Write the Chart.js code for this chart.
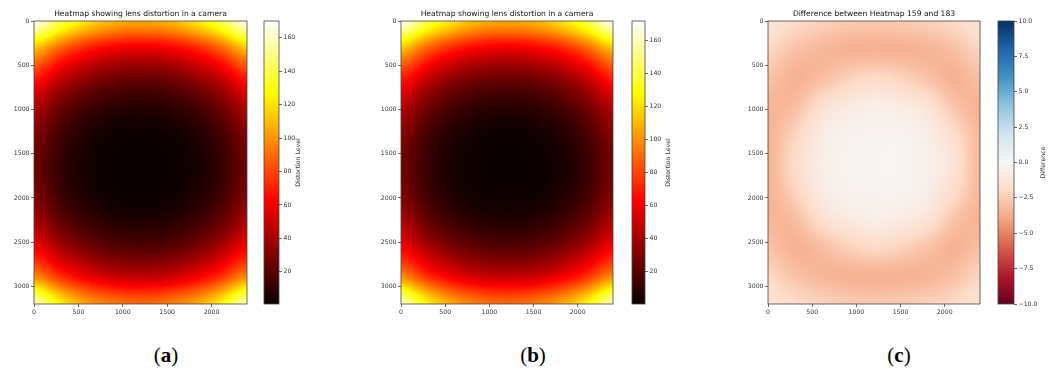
<!DOCTYPE html>
<html>
<head>
<meta charset="utf-8">
<script src="https://cdn.jsdelivr.net/npm/chart.js@4.4.1/dist/chart.umd.min.js"></script>
<style>
  html, body { margin: 0; padding: 0; background: #fff; }
  #fig { position: relative; width: 1057px; height: 373px; overflow: hidden; }
  #fig canvas { position: absolute; top: 0; }
  .cap { position: absolute; top: 343px; width: 60px; margin-left: -30px; text-align: center;
         font: 21px "Liberation Serif", serif; color: #000; }
</style>
</head>
<body>
<div id="fig">
  <canvas id="heat-a" width="260" height="330" style="left:0px"></canvas>
  <canvas id="bar-a" width="80" height="330" style="left:255px"></canvas>
  <canvas id="heat-b" width="260" height="330" style="left:360px"></canvas>
  <canvas id="bar-b" width="75" height="330" style="left:625px"></canvas>
  <canvas id="heat-c" width="270" height="330" style="left:720px"></canvas>
  <canvas id="bar-c" width="67" height="330" style="left:990px"></canvas>
  <div class="cap" style="left:166px">(<b>a</b>)</div>
  <div class="cap" style="left:533px">(<b>b</b>)</div>
  <div class="cap" style="left:899px">(<b>c</b>)</div>
</div>
<script>
/* ── Dados ───────────────────────────────────────────────────── */
const xGrid = [0, 300, 600, 900, 1200, 1500, 1800, 2100, 2400];
const yGrid = [0, 320, 640, 960, 1280, 1600, 1920, 2240, 2560, 2880, 3200];

const distortionA = [
  [168, 139, 120, 108, 105, 108, 120, 139, 168],
  [110,  85,  68,  59,  56,  59,  68,  85, 110],
  [ 70,  48,  35,  27,  25,  27,  35,  48,  70],
  [ 44,  26,  15,  10,   8,  10,  15,  26,  44],
  [ 31,  15,   6, 2.3, 1.3, 2.3,   6,  15,  31],
  [ 26,  11, 3.4,   1, 0.8,   1, 3.4,  11,  26],
  [ 29,  13, 4.9, 1.4,   1, 1.4, 4.9,  13,  29],
  [ 40,  22,  12, 6.9, 5.4, 6.9,  12,  22,  40],
  [ 61,  41,  28,  21,  19,  21,  28,  41,  61],
  [ 97,  73,  57,  48,  46,  48,  57,  73,  97],
  [158, 124, 103,  93,  89,  93, 103, 124, 158],
];

const distortionB = [
  [170, 140, 121, 109, 106, 109, 121, 140, 171],
  [111,  86,  69,  60,  57,  60,  69,  86, 111],
  [ 71,  49,  35,  28,  26,  28,  35,  49,  71],
  [ 45,  27,  16,  10, 8.5,  10,  16,  27,  45],
  [ 32,  16, 6.5, 2.5, 1.4, 2.5, 6.5,  16,  32],
  [ 27,  12, 3.6, 1.1, 0.5, 1.1, 3.6,  12,  27],
  [ 30,  14, 5.2, 1.6, 1.1, 1.6, 5.2,  14,  30],
  [ 41,  23, 12.5, 7.2, 5.7, 7.2, 12.5, 23, 41],
  [ 62,  42,  29,  22,  20,  22,  29,  42,  62],
  [ 98,  74,  58,  49,  47,  49,  58,  74,  98],
  [160, 126, 105,  94,  90,  94, 105, 126, 160],
];

const differenceC = [
  [-1.3, -1.9, -2.3, -2.6, -2.7, -2.6, -2.4, -2.0, -1.4],
  [-2.1, -2.9, -3.3, -3.5, -3.5, -3.5, -3.4, -3.0, -2.2],
  [-2.9, -3.5, -3.1, -2.4, -2.0, -2.3, -2.9, -3.5, -3.0],
  [-3.4, -3.1, -1.7, -1.0, -0.7, -0.9, -1.4, -2.8, -3.5],
  [-3.5, -2.3, -0.9, -0.4, -0.3, -0.3, -0.7, -1.8, -3.3],
  [-3.5, -1.9, -0.7, -0.3, -0.2, -0.2, -0.6, -1.4, -3.3],
  [-3.5, -2.3, -0.9, -0.4, -0.3, -0.3, -0.7, -1.8, -3.3],
  [-3.4, -3.1, -1.7, -1.0, -0.7, -0.9, -1.4, -2.8, -3.5],
  [-2.9, -3.5, -3.1, -2.4, -2.0, -2.3, -2.9, -3.5, -3.0],
  [-2.1, -2.9, -3.3, -3.5, -3.5, -3.5, -3.4, -3.0, -2.2],
  [-1.3, -1.9, -2.3, -2.6, -2.7, -2.6, -2.4, -2.0, -1.4],
];

const xTicks = [0, 500, 1000, 1500, 2000];
const yTicks = [0, 500, 1000, 1500, 2000, 2500, 3000];
const levelTicks = [20, 40, 60, 80, 100, 120, 140, 160];
const diffTicks = [-10, -7.5, -5, -2.5, 0, 2.5, 5, 7.5, 10];
const levelRangeA = [0.8, 170];
const levelRangeB = [0.5, 172];
const diffRange = [-10, 10];

const titleAB = 'Heatmap showing lens distortion in a camera';
const titleC = 'Difference between Heatmap 159 and 183';

const FONT = '"DejaVu Sans", sans-serif';

/* ── Mapas de cor ────────────────────────────────────────────── */
const RDBU_STOPS = [
  [103, 0, 31], [178, 24, 43], [214, 96, 77], [244, 165, 130], [253, 219, 199],
  [247, 247, 247], [209, 229, 240], [146, 197, 222], [67, 147, 195], [33, 102, 172], [5, 48, 97],
];

function clamp01(t) { return Math.max(0, Math.min(1, t)); }

function hotColor(t) {
  t = clamp01(t);
  const r = clamp01(0.0416 + (1 - 0.0416) * t / 0.365079);
  const g = clamp01((t - 0.365079) / 0.380953);
  const b = clamp01((t - 0.746032) / 0.253968);
  return [r * 255, g * 255, b * 255];
}

function rdbuColor(t) {
  t = clamp01(t) * (RDBU_STOPS.length - 1);
  const i = Math.min(Math.floor(t), RDBU_STOPS.length - 2);
  const f = t - i, a = RDBU_STOPS[i], b = RDBU_STOPS[i + 1];
  return [a[0] + (b[0] - a[0]) * f, a[1] + (b[1] - a[1]) * f, a[2] + (b[2] - a[2]) * f];
}

/* ── Amostragem da grade (Catmull-Rom) ───────────────────────── */
function cubic(p0, p1, p2, p3, t) {
  return p1 + 0.5 * t * (p2 - p0 + t * (2 * p0 - 5 * p1 + 4 * p2 - p3 + t * (3 * (p1 - p2) + p3 - p0)));
}

function sampleGrid(values, x, y) {
  const nx = xGrid.length, ny = yGrid.length;
  let fx = (x - xGrid[0]) / (xGrid[1] - xGrid[0]);
  let fy = (y - yGrid[0]) / (yGrid[1] - yGrid[0]);
  fx = Math.max(0, Math.min(nx - 1, fx));
  fy = Math.max(0, Math.min(ny - 1, fy));
  const i = Math.min(Math.floor(fx), nx - 2), j = Math.min(Math.floor(fy), ny - 2);
  const tx = fx - i, ty = fy - j;
  const ci = k => Math.max(0, Math.min(nx - 1, k));
  const cj = k => Math.max(0, Math.min(ny - 1, k));
  const rows = [];
  for (let m = -1; m <= 2; m++) {
    const row = values[cj(j + m)];
    rows.push(cubic(row[ci(i - 1)], row[ci(i)], row[ci(i + 1)], row[ci(i + 2)], tx));
  }
  return cubic(rows[0], rows[1], rows[2], rows[3], ty);
}

/* ── Plugins ─────────────────────────────────────────────────── */
function heatPlugin(values, range, cmap) {
  return {
    id: 'heatField',
    beforeDatasetsDraw(chart) {
      const { ctx, chartArea: a, scales } = chart;
      const x0 = Math.round(a.left), y0 = Math.round(a.top);
      const w = Math.round(a.right) - x0, h = Math.round(a.bottom) - y0;
      const off = document.createElement('canvas');
      off.width = w; off.height = h;
      const octx = off.getContext('2d');
      const img = octx.createImageData(w, h);
      for (let py = 0; py < h; py++) {
        const dy = scales.y.getValueForPixel(y0 + py + 0.5);
        for (let px = 0; px < w; px++) {
          const dx = scales.x.getValueForPixel(x0 + px + 0.5);
          const v = sampleGrid(values, dx, dy);
          const c = cmap((v - range[0]) / (range[1] - range[0]));
          const k = (py * w + px) * 4;
          img.data[k] = c[0]; img.data[k + 1] = c[1]; img.data[k + 2] = c[2]; img.data[k + 3] = 255;
        }
      }
      octx.putImageData(img, 0, 0);
      ctx.drawImage(off, x0, y0);
    },
    afterDraw(chart) {
      const { ctx, chartArea: a } = chart;
      ctx.save();
      ctx.strokeStyle = '#444';
      ctx.lineWidth = 0.8;
      ctx.strokeRect(a.left, a.top, a.right - a.left, a.bottom - a.top);
      ctx.restore();
    },
  };
}

function colorbarPlugin(cmap, label, labelX) {
  return {
    id: 'colorbar',
    beforeDatasetsDraw(chart) {
      const { ctx, chartArea: a, scales } = chart;
      const y = scales.y;
      for (let py = Math.floor(a.top); py < Math.ceil(a.bottom); py++) {
        const c = cmap((y.getValueForPixel(py + 0.5) - y.min) / (y.max - y.min));
        ctx.fillStyle = `rgb(${c[0] | 0},${c[1] | 0},${c[2] | 0})`;
        ctx.fillRect(a.left, py, a.right - a.left, 1);
      }
    },
    afterDraw(chart) {
      const { ctx, chartArea: a } = chart;
      ctx.save();
      ctx.strokeStyle = '#444';
      ctx.lineWidth = 0.8;
      ctx.strokeRect(a.left, a.top, a.right - a.left, a.bottom - a.top);
      ctx.translate(labelX, (a.top + a.bottom) / 2);
      ctx.rotate(-Math.PI / 2);
      ctx.fillStyle = '#333';
      ctx.font = `6.2px ${FONT}`;
      ctx.textAlign = 'center';
      ctx.textBaseline = 'middle';
      ctx.fillText(label, 0, 0);
      ctx.restore();
    },
  };
}

/* ── Gráficos ────────────────────────────────────────────────── */
const tickFont = { family: FONT, size: 6.2 };
const tickGrid = { drawOnChartArea: false, drawTicks: true, tickLength: 3, color: '#444', lineWidth: 0.8 };

function renderHeatmap(id, values, range, cmap, title, axisW, padRight) {
  const points = [];
  yGrid.forEach((y, j) => xGrid.forEach((x, i) => points.push({ x, y, v: values[j][i] })));
  return new Chart(document.getElementById(id), {
    type: 'scatter',
    data: { datasets: [{ data: points, pointRadius: 0, pointHoverRadius: 0 }] },
    options: {
      responsive: false,
      animation: false,
      events: [],
      layout: { padding: { left: 0, right: padRight, top: 0, bottom: 0 } },
      plugins: {
        legend: { display: false },
        tooltip: { enabled: false },
        title: {
          display: true, text: title, fullSize: false, color: '#111',
          font: { family: FONT, size: 7.6, weight: 'normal' },
          padding: { top: 9, bottom: 2.9 },
        },
      },
      scales: {
        x: {
          type: 'linear', min: -0.5, max: 2399.5,
          afterBuildTicks: s => { s.ticks = xTicks.map(v => ({ value: v })); },
          afterFit: s => { s.height = 26; },
          grid: tickGrid, border: { display: false },
          ticks: { color: '#333', font: tickFont, padding: 1.5, maxRotation: 0, autoSkip: false, callback: v => String(v) },
        },
        y: {
          type: 'linear', reverse: true, min: -0.5, max: 3199.5,
          afterBuildTicks: s => { s.ticks = yTicks.map(v => ({ value: v })); },
          afterFit: s => { s.width = axisW; },
          grid: tickGrid, border: { display: false },
          ticks: { color: '#333', font: tickFont, padding: 1.5, autoSkip: false, callback: v => String(v) },
        },
      },
    },
    plugins: [heatPlugin(values, range, cmap)],
  });
}

function renderColorbar(id, range, ticks, fmt, cmap, label, padLeft, axisW, labelX) {
  return new Chart(document.getElementById(id), {
    type: 'scatter',
    data: { datasets: [] },
    options: {
      responsive: false,
      animation: false,
      events: [],
      layout: { padding: { left: padLeft, right: 0, top: 21, bottom: 26 } },
      plugins: { legend: { display: false }, tooltip: { enabled: false } },
      scales: {
        x: { display: false, min: 0, max: 1 },
        y: {
          type: 'linear', position: 'right', min: range[0], max: range[1],
          afterBuildTicks: s => { s.ticks = ticks.map(v => ({ value: v })); },
          afterFit: s => { s.width = axisW; },
          grid: tickGrid, border: { display: false },
          ticks: { color: '#333', font: tickFont, padding: 1.5, autoSkip: false, callback: fmt },
        },
      },
    },
    plugins: [colorbarPlugin(cmap, label, labelX)],
  });
}

const fmtLevel = v => String(v);
const fmtDiff = v => v.toFixed(1).replace('-', '\u2212');

renderHeatmap('heat-a', distortionA, levelRangeA, hotColor, titleAB, 34, 13);
renderColorbar('bar-a', levelRangeA, levelTicks, fmtLevel, hotColor, 'Distortion Level', 9, 56, 43);
renderHeatmap('heat-b', distortionB, levelRangeB, hotColor, titleAB, 41, 7);
renderColorbar('bar-b', levelRangeB, levelTicks, fmtLevel, hotColor, 'Distortion Level', 7, 55, 43);
renderHeatmap('heat-c', differenceC, diffRange, rdbuColor, titleC, 48, 10);
renderColorbar('bar-c', diffRange, diffTicks, fmtDiff, rdbuColor, 'Difference', 8, 43, 53);
</script>
</body>
</html>
